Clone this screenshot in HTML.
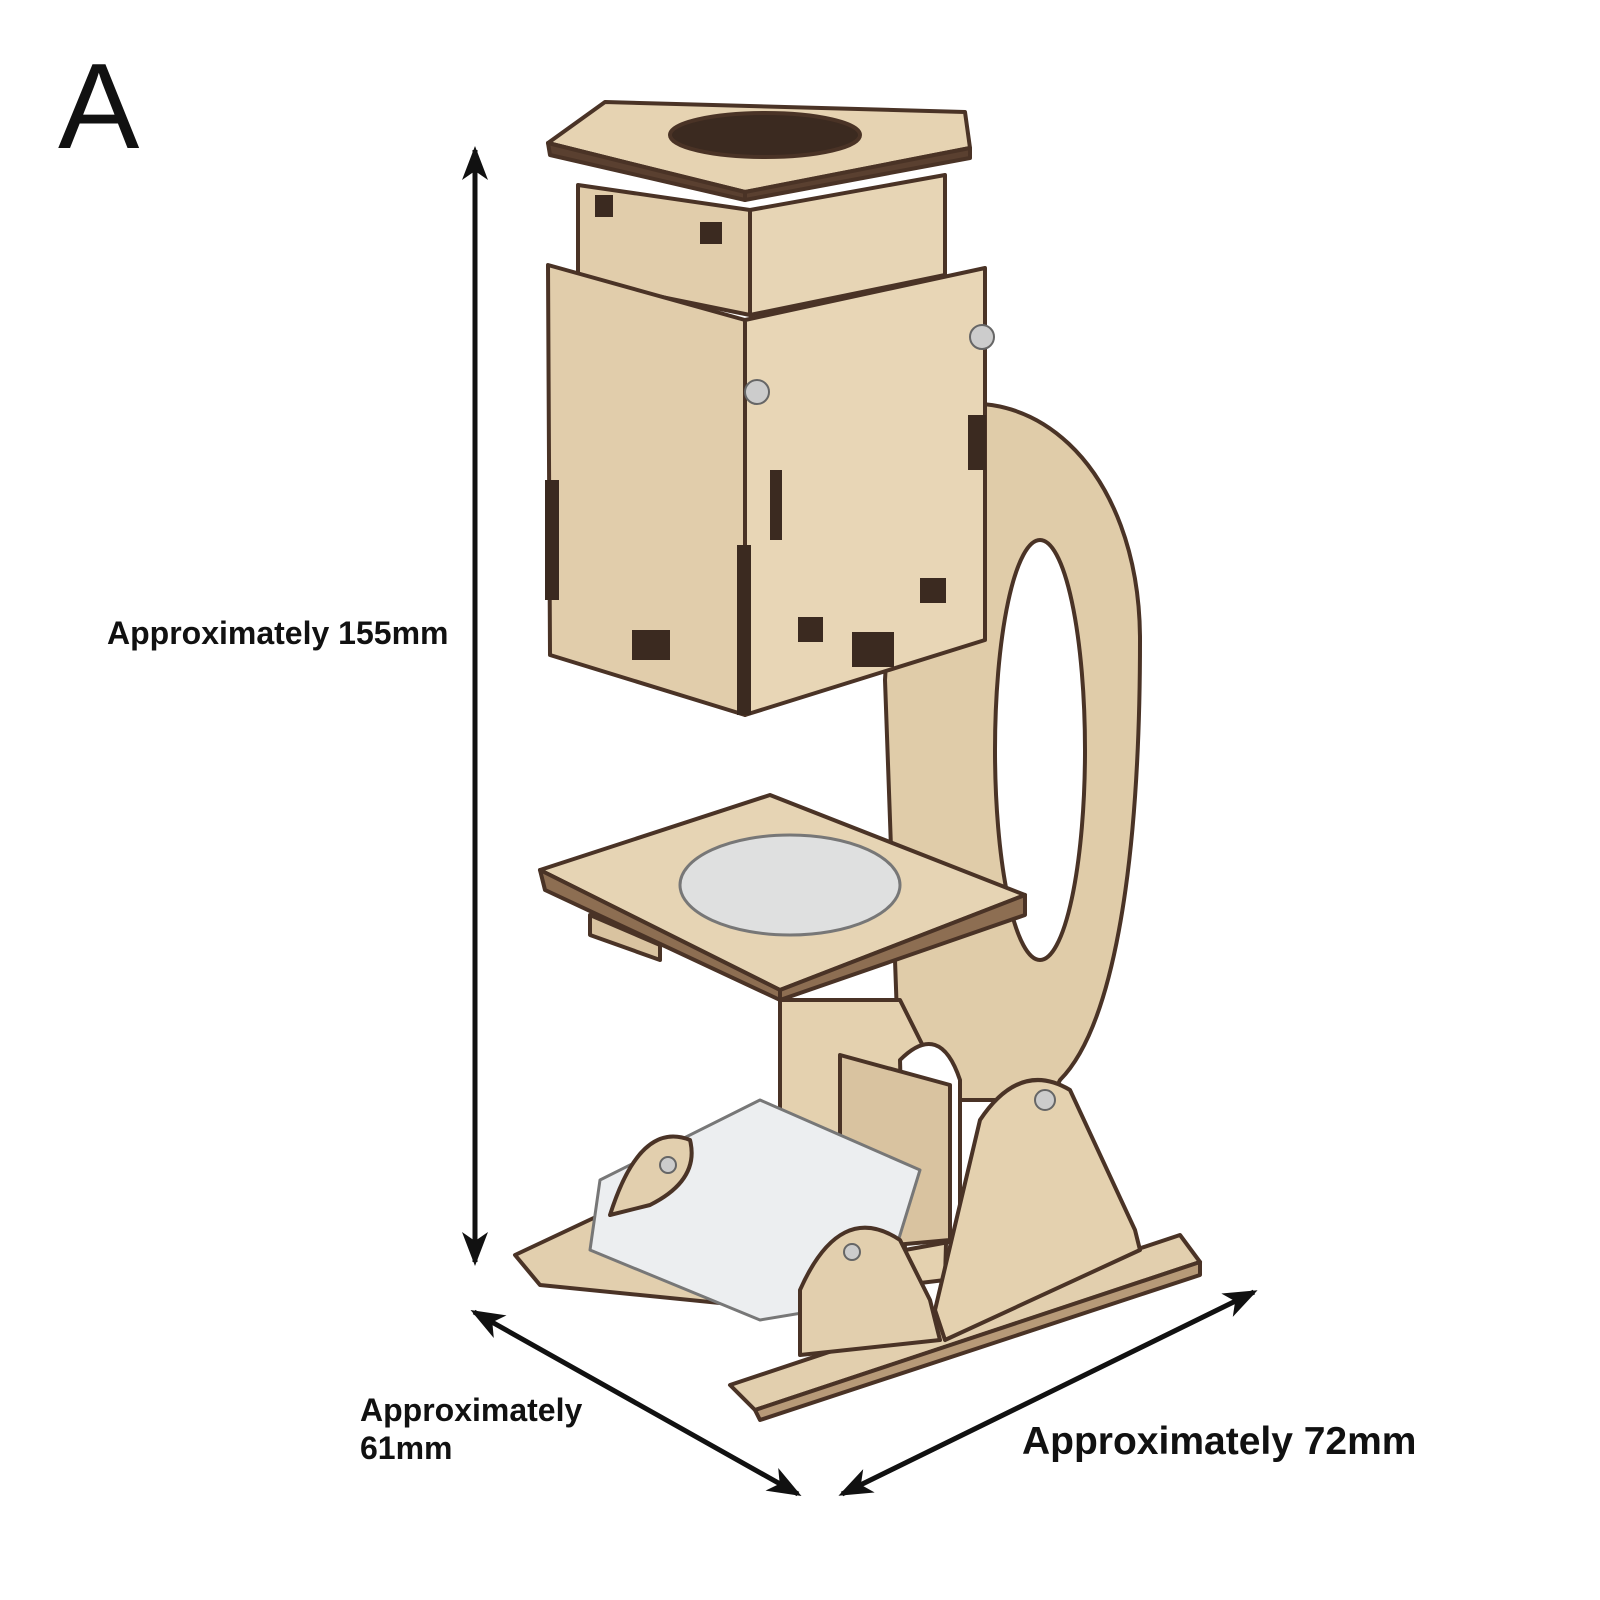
<!DOCTYPE html>
<html><head><meta charset="utf-8"><style>
html,body{margin:0;padding:0;background:#fff;}
body{width:1600px;height:1600px;position:relative;overflow:hidden;font-family:"Liberation Sans",sans-serif;}
.t{position:absolute;font-weight:bold;color:#111;white-space:nowrap;}
</style></head><body>
<svg width="1600" height="1600" viewBox="0 0 1600 1600" style="position:absolute;left:0;top:0">
<defs>
<marker id="ah" markerWidth="34" markerHeight="26" refX="30" refY="13" orient="auto-start-reverse" markerUnits="userSpaceOnUse">
<path d="M0,0 L34,13 L0,26 L9,13 z" fill="#111"/></marker>
</defs>
<g stroke="#4a3326" stroke-width="4" stroke-linejoin="round">
<!-- base plates -->
<polygon points="515,1255 600,1215 760,1260 740,1305 540,1285" fill="#e2cfae"/>
<polygon points="730,1385 1180,1235 1200,1262 755,1410" fill="#e2cfae"/>
<polygon points="755,1410 1200,1262 1200,1275 760,1420" fill="#b79a78"/>
<!-- arm -->
<path d="M900,420 C1030,360 1140,470 1140,640 C1140,880 1110,1030 1060,1080 L1050,1100 L900,1100 L885,680 Z" fill="#e0cca9"/>
<ellipse cx="1040" cy="750" rx="45" ry="210" fill="#fff"/>
<!-- pillar -->
<polygon points="780,1000 900,1000 950,1100 945,1280 780,1300" fill="#e4d1af"/>
<path d="M900,1060 Q940,1020 960,1080 L960,1240 L905,1250 Z" fill="#fff"/>
<polygon points="840,1055 950,1085 950,1240 840,1250" fill="#d9c3a0"/>
<!-- mirror -->
<polygon points="600,1180 760,1100 920,1170 880,1300 760,1320 590,1250" fill="#eceef0" stroke="#777" stroke-width="3"/>
<!-- mirror holders -->
<path d="M610,1215 Q640,1120 690,1140 Q700,1180 650,1205 Z" fill="#e2cfae"/>
<path d="M800,1355 L800,1290 Q840,1200 900,1240 L930,1300 L940,1340 Z" fill="#e2cfae"/>
<!-- triangle support -->
<path d="M935,1310 L980,1120 Q1020,1060 1070,1090 L1135,1230 L1140,1250 L945,1340 Z" fill="#e4d1af"/>
<circle cx="1045" cy="1100" r="10" fill="#ccc" stroke="#666" stroke-width="2"/>
<circle cx="852" cy="1252" r="8" fill="#ccc" stroke="#666" stroke-width="2"/>
<circle cx="668" cy="1165" r="8" fill="#ccc" stroke="#666" stroke-width="2"/>
<!-- stage -->
<polygon points="540,870 770,795 1025,895 780,990" fill="#e6d4b4"/>
<polygon points="780,990 1025,895 1025,915 780,1000" fill="#8d6e52"/>
<polygon points="540,870 780,990 780,1000 545,890" fill="#8d6e52"/>
<ellipse cx="790" cy="885" rx="110" ry="50" fill="#dfe0e0" stroke="#777" stroke-width="3"/>
<polygon points="590,915 660,945 660,960 590,935" fill="#d9c3a0"/>
<!-- eyepiece box -->
<polygon points="578,185 750,210 750,315 578,280" fill="#e1cdab"/>
<polygon points="750,210 945,175 945,275 750,315" fill="#e7d5b5"/>
<polygon points="548,143 605,102 965,112 970,148 745,192" fill="#e6d3b2"/>
<polygon points="548,143 745,192 745,200 550,155" fill="#5a4030"/>
<polygon points="745,192 970,148 970,158 745,200" fill="#5a4030"/>
<ellipse cx="765" cy="135" rx="95" ry="22" fill="#3b2a20"/>
<!-- head box -->
<polygon points="548,265 745,320 745,715 550,655" fill="#e1cdab"/>
<polygon points="745,320 985,268 985,640 745,715" fill="#e8d6b6"/>
<circle cx="982" cy="337" r="12" fill="#ccc" stroke="#666" stroke-width="2"/>
<circle cx="757" cy="392" r="12" fill="#ccc" stroke="#666" stroke-width="2"/>
</g>
<g fill="#3b2a20">
<rect x="595" y="195" width="18" height="22"/><rect x="700" y="222" width="22" height="22"/>
<rect x="968" y="415" width="18" height="55"/><rect x="920" y="578" width="26" height="25"/>
<rect x="798" y="617" width="25" height="25"/><rect x="852" y="632" width="42" height="35"/>
<rect x="632" y="630" width="38" height="30"/><rect x="545" y="480" width="14" height="120"/>
<rect x="737" y="545" width="14" height="170"/><rect x="770" y="470" width="12" height="70"/>
</g>
<!-- dimension arrows -->
<g stroke="#111" stroke-width="5" fill="none">
<line x1="475" y1="150" x2="475" y2="1262" marker-start="url(#ah)" marker-end="url(#ah)"/>
<line x1="474" y1="1312" x2="798" y2="1494" marker-start="url(#ah)" marker-end="url(#ah)"/>
<line x1="842" y1="1494" x2="1254" y2="1292" marker-start="url(#ah)" marker-end="url(#ah)"/>
</g>
</svg>
<div class="t" style="left:107px;top:36px;font-size:122px;font-weight:normal;left:58px;">A</div>
<div class="t" style="left:107px;top:615px;font-size:32px;">Approximately 155mm</div>
<div class="t" style="left:360px;top:1391px;font-size:32px;line-height:38px;">Approximately<br>61mm</div>
<div class="t" style="left:1022px;top:1420px;font-size:39px;">Approximately 72mm</div>
</body></html>
